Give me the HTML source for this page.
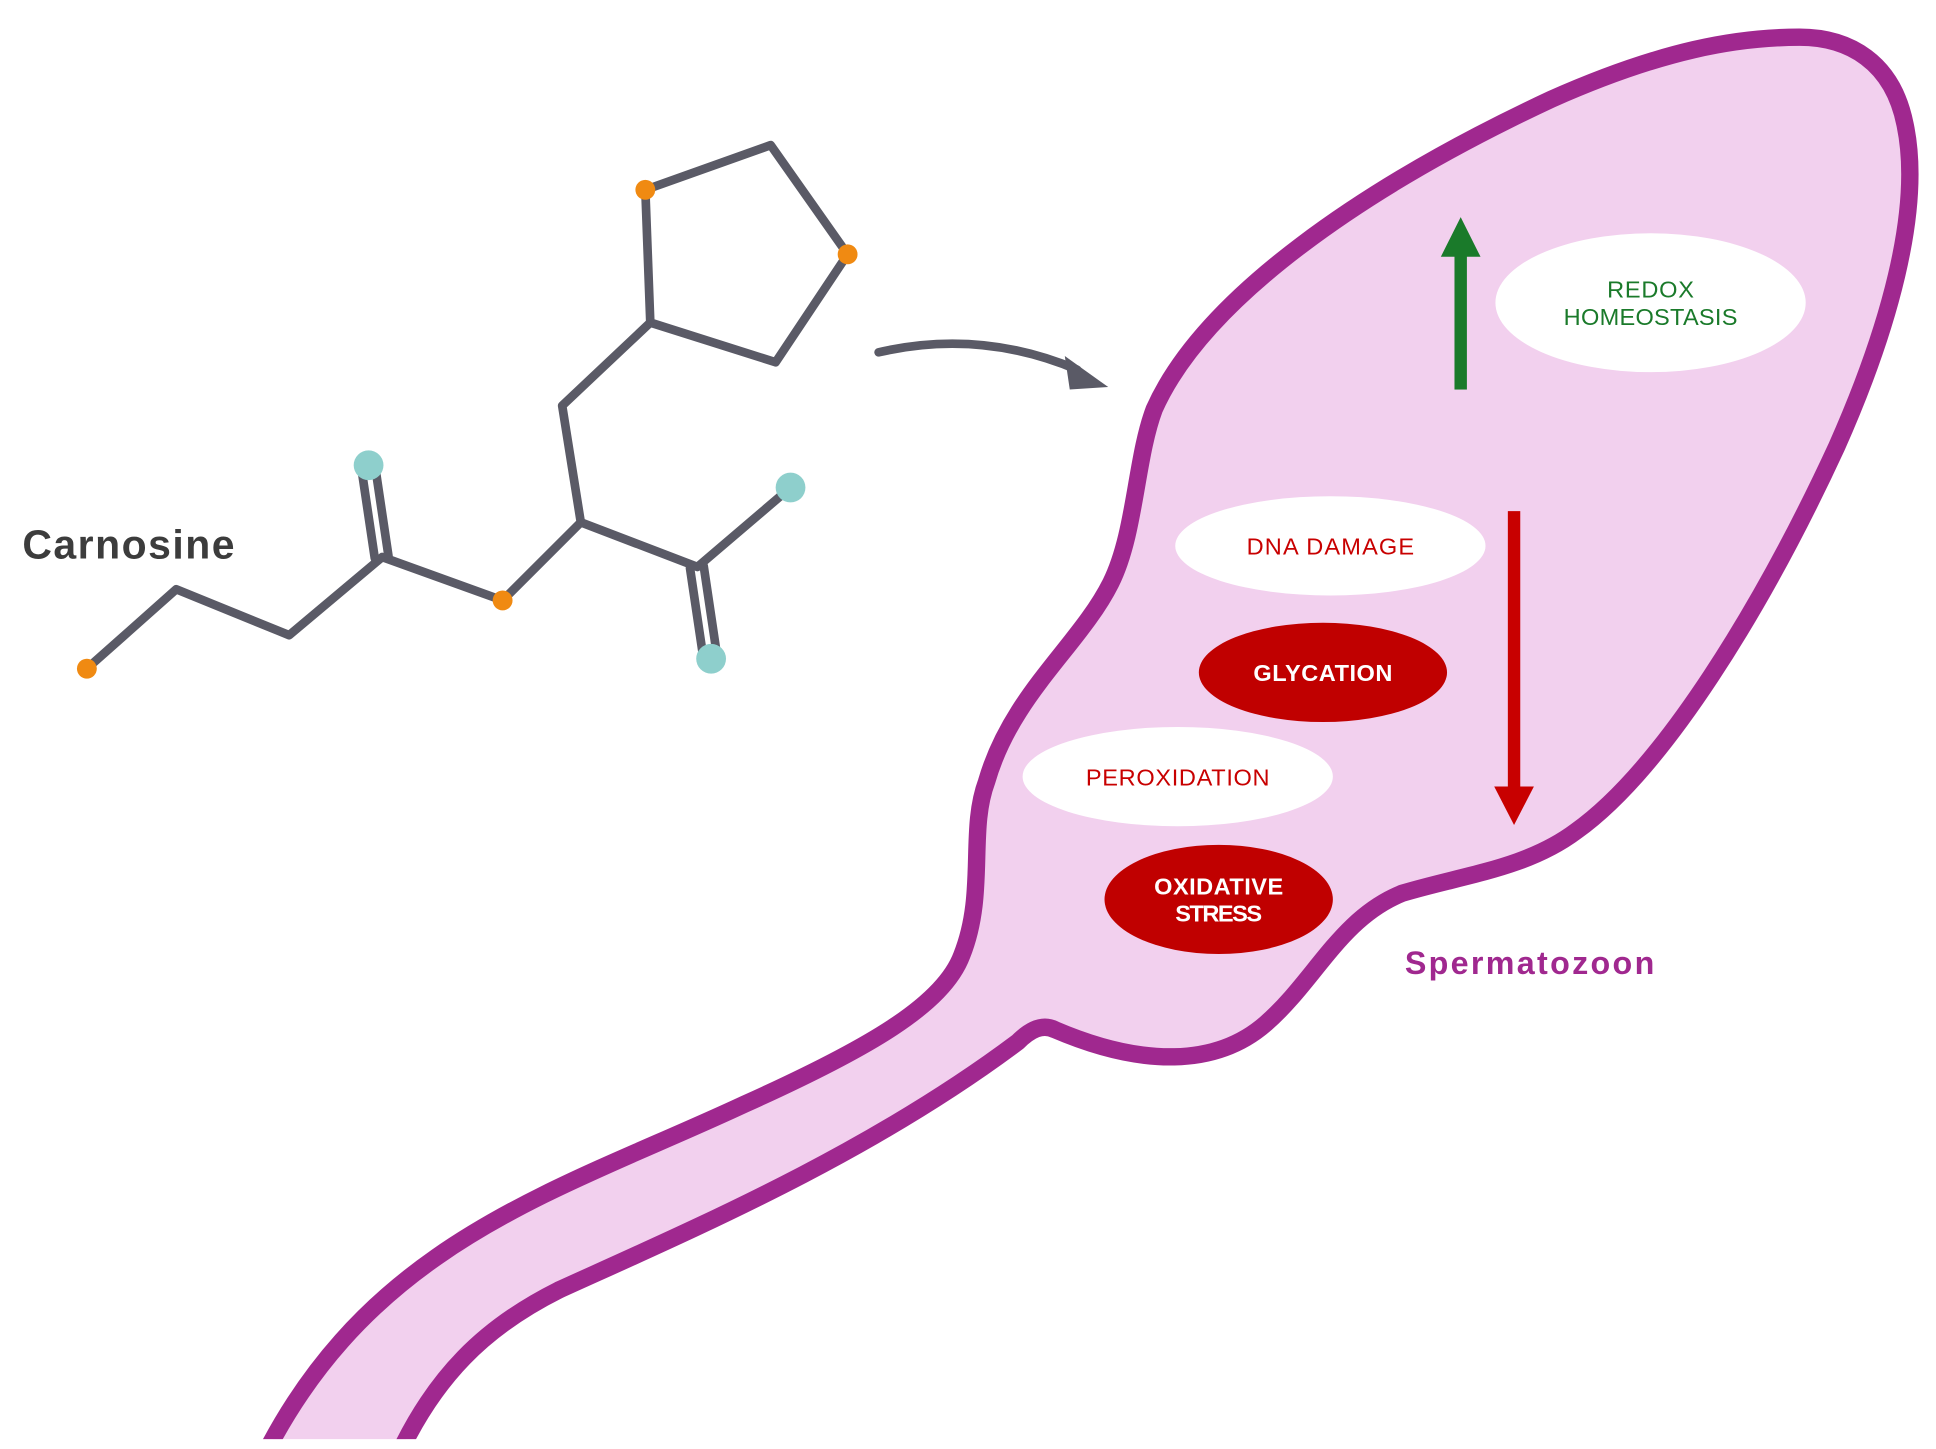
<!DOCTYPE html>
<html><head><meta charset="utf-8"><style>
html,body{margin:0;padding:0;background:#fff;width:1936px;height:1449px;overflow:hidden}
svg{display:block}
text{font-family:"Liberation Sans",sans-serif}
</style></head><body>
<svg width="1936" height="1449" viewBox="0 0 1560 1168" preserveAspectRatio="none">
<defs><clipPath id="c"><rect x="0" y="0" width="1560" height="1160"/></clipPath></defs>
<g clip-path="url(#c)">
<path d="M212,1175 C300,1000 450,960 600,890 C700,845 760,810 775,770 C795,720 780,670 795,630 C815,560 870,520 895,470 C915,430 915,370 930,330 C970,240 1100,150 1250,80 C1340,40 1400,30 1450,30 C1490,30 1525,50 1535,100 C1550,170 1520,270 1480,360 C1420,490 1340,620 1270,670 C1230,700 1180,705 1130,720 C1080,740 1060,790 1020,825 C980,860 920,860 850,830 C840,825 830,830 820,840 C700,930 560,990 450,1040 C390,1070 350,1110 320,1175 Z" fill="#f2d0ee" stroke="#a0288f" stroke-width="14" stroke-linejoin="round"/>
</g>
<g stroke="#5a5a66" stroke-width="7" fill="none" stroke-linejoin="round" stroke-linecap="round">
<polyline points="70,539 142,475 233,512 308,449 405,484 468,421 453,327 524,260 625,292 683,205 621,117 520,153 524,260"/>
<line x1="313" y1="448" x2="302" y2="374"/><line x1="302" y1="450" x2="291" y2="376"/>
<polyline points="468,421 562,457 637,393"/>
<line x1="567" y1="456" x2="578" y2="530"/><line x1="556" y1="458" x2="567" y2="532"/>
<path d="M708,284 Q790,265 868,298"/>
</g>
<polygon points="858,287 893,312 862,314" fill="#5a5a66"/>
<g fill="#f08a12"><circle cx="70" cy="539" r="8"/><circle cx="405" cy="484" r="8"/><circle cx="520" cy="153" r="8"/><circle cx="683" cy="205" r="8"/></g>
<g fill="#8ecfcc"><circle cx="297" cy="375" r="12"/><circle cx="637" cy="393" r="12"/><circle cx="573" cy="531" r="12"/></g>
<text x="18" y="450" font-size="33" fill="#3c3c3c" font-weight="bold" letter-spacing="1" textLength="172">Carnosine</text>
<rect x="1172" y="204" width="10" height="110" fill="#1a7a2a"/>
<polygon points="1161,207 1177,175 1193,207" fill="#1a7a2a"/>
<rect x="1215" y="412" width="10" height="225" fill="#c80000"/>
<polygon points="1204,634 1220,665 1236,634" fill="#c80000"/>
<ellipse cx="1330" cy="244" rx="125" ry="56" fill="#fff"/>
<ellipse cx="1072" cy="440" rx="125" ry="40" fill="#fff"/>
<ellipse cx="1066" cy="542" rx="100" ry="40" fill="#c00000"/>
<ellipse cx="949" cy="626" rx="125" ry="40" fill="#fff"/>
<ellipse cx="982" cy="725" rx="92" ry="44" fill="#c00000"/>
<g font-size="19" text-anchor="middle">
<text x="1330" y="240" fill="#1a7a2a" textLength="70">REDOX</text>
<text x="1330" y="262" fill="#1a7a2a" textLength="140">HOMEOSTASIS</text>
<text x="1072" y="447" fill="#c80000" textLength="135">DNA DAMAGE</text>
<text x="1066" y="549" fill="#fff" font-weight="bold" textLength="112">GLYCATION</text>
<text x="949" y="633" fill="#c80000" textLength="148">PEROXIDATION</text>
<text x="982" y="721" fill="#fff" font-weight="bold" textLength="104">OXIDATIVE</text>
<text x="982" y="743" fill="#fff" font-weight="bold" textLength="70">STRESS</text>
</g>
<text x="1132" y="785" font-size="26" fill="#a0288f" font-weight="bold" textLength="201">Spermatozoon</text>
</svg>
</body></html>
